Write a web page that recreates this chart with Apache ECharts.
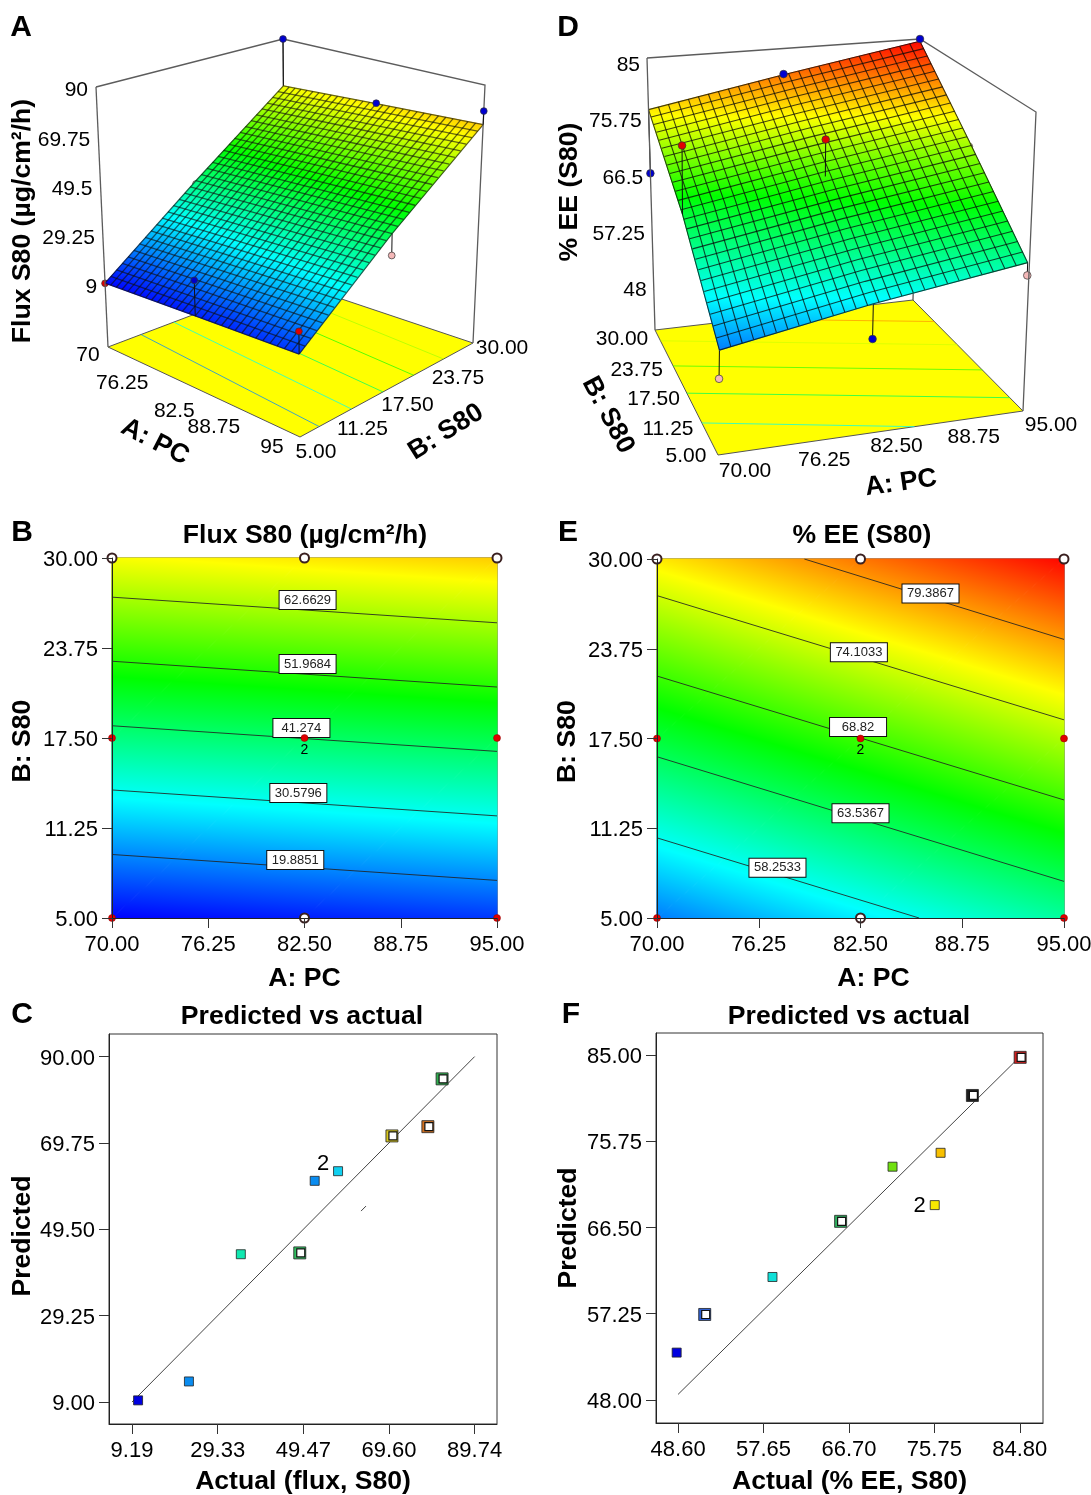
<!DOCTYPE html>
<html><head><meta charset="utf-8">
<style>html,body{margin:0;padding:0;background:#fff}#c{width:1091px;height:1495px}</style>
<script src="https://cdn.jsdelivr.net/npm/echarts@6/dist/echarts.min.js"></script>
</head><body><div id="c"></div>
<script>
// ---------- values ----------
const factorA=[70,82.5,95];
const factorB=[5,17.5,30];
const factorATicks=[70,76.25,82.5,88.75,95];
const factorBTicks=[5,11.25,17.5,23.75,30];
// response surface (rows: A, columns: B)
const fluxSurface=[[9.3,39.3,69.2],[11.5,41.4,71.4],[13.6,43.6,73.6]];
const eeSurface=[[53.0,64.7,76.5],[57.1,68.8,80.6],[61.1,72.9,84.6]];
const fluxLevels=[19.8851,30.5796,41.274,51.9684,62.6629];
const fluxContourStart=[[70,9.41],[70,13.89],[70,18.35],[70,22.83],[70,27.28]];
const fluxContourEnd=[[95,7.61],[95,12.09],[95,16.57],[95,21.04],[95,25.5]];
const fluxLabelAt=[[81.9,9.03],[82.1,13.68],[82.3,18.19],[82.7,22.64],[82.7,27.08]];
const eeLevels=[58.2533,63.5367,68.82,74.1033,79.3867];
const eeContourStart=[[70,10.58],[70,16.23],[70,21.85],[70,27.45],[79.05,30]];
const eeContourEnd=[[86.1,5],[95,7.55],[95,13.22],[95,18.8],[95,24.4]];
const eeLabelAt=[[77.4,8.5],[82.5,12.3],[82.35,18.3],[82.4,23.5],[86.8,27.6]];
// design points [A, B]
const designPoints=[[70,5],[82.5,5],[95,5],[70,17.5],[82.5,17.5],[95,17.5],[70,30],[82.5,30],[95,30]];
const designMark=['red','white','red','red','red','red','white','white','white'];
// actual responses at the design points, and their colours in the 3D plots
const fluxActual=[9.2,25.4,22,37.9,41,35,90,71.6,79.2];
const fluxDot=['#e00000','#0000c8','#e00000','#f4c0c0','#e00000','#f4b8b8','#0000d0','#0000d0','#0000d0'];
const eeActual=[49.5,52.5,59.3,74.5,74.3,72,66,80.7,85];
const eeDot=['#f4b8b8','#0000d0','#f4b8b8','#e00000','#e00000','#f4c0c0','#0000d0','#0000d0','#0000d0'];
// predicted vs actual
const fluxPvaX=[10.62,22.57,34.77,48.63,52.14,57.63,70.3,78.75,82.09];
const fluxPvaY=[9.39,13.83,43.66,43.97,60.87,63.13,71.4,73.57,84.78];
const fluxPvaColor=['#0000e0','#0a8cf0','#10e8b0','#30c060','#0a8cf0','#10d0f0','#d8c820','#d07020','#30b050'];
const fluxPvaHollow=[0,0,0,1,0,0,1,1,1];
const fluxPvaCount=['','','','','','2','','',''];
const eePvaX=[48.45,51.42,58.6,65.82,71.32,75.79,76.41,79.78,84.84];
const eePvaY=[53.08,57.17,61.19,67.16,73.02,68.9,74.51,80.66,84.75];
const eePvaColor=['#0000e0','#3060d0','#10e0d8','#30b060','#70e010','#f8e800','#f8c000','#202020','#d02020'];
const eePvaHollow=[0,1,0,1,0,0,0,1,1];
const eePvaCount=['','','','','','2','','',''];
const fluxActualTicks=[9.19,29.33,49.47,69.60,89.74];
const fluxPredTicks=[9,29.25,49.5,69.75,90];
const eeActualTicks=[48.60,57.65,66.70,75.75,84.80];
const eePredTicks=[48,57.25,66.5,75.75,85];
const fluxZTicks=[9,29.25,49.5,69.75,90];
const eeZTicks=[48,57.25,66.5,75.75,85];

// ---------- layout ----------
const FONT='"Liberation Sans",Arial,sans-serif';
const panelA={table:fluxSurface,levels:fluxLevels,cs:fluxContourStart,ce:fluxContourEnd,actual:fluxActual,dots:fluxDot,dom:[9.19,89.74],
  floor:[[108,347],[300,437],[473,343],[285,280]],top:[[96,87],[297,147],[485,85],[283,39]],zr:[-17,90],ku:.87,kv:1.07,
  wireBack:[[[283,39],[285,280]]],wireFront:[[[96,87],[283,39],[485,85],[473,343]],[[96,87],[108,347]]],
  nA:30,nB:32,meshColor:'rgba(15,15,15,.62)',meshW:1.3,dotR:3.4,
  zTicks:fluxZTicks,zCorner:[70,5],zOff:[-8,2],
  aLabels:['70','76.25','82.5','88.75','95'],aB:5,aOff:[[-20,7],[-29,14],[-23,21],[-33,14],[-28,9]],
  bLabels:['5.00','11.25','17.50','23.75','30.00'],bA:95,bOff:[[16,14],[17,15],[18,15],[26,11],[29,4]]};
const panelD={table:eeSurface,levels:eeLevels,cs:eeContourStart,ce:eeContourEnd,actual:eeActual,dots:eeDot,dom:[48.6,84.8],
  floor:[[718,455],[1023,411],[913,300],[655,330]],top:[[723,88],[1033,93],[920,39],[647,58]],zr:[40.2,85],ku:1,kv:1.2,
  wireBack:[[[920,39],[913,300]]],wireFront:[[[647,58],[920,39],[1036,112],[1023,411]],[[647,58],[655,330]]],
  nA:27,nB:25,meshColor:'rgba(10,10,10,.75)',meshW:1.1,dotR:3.8,
  zTicks:eeZTicks,zCorner:[70,30],zOff:[-7,6],
  aLabels:['70.00','76.25','82.50','88.75','95.00'],aB:5,aOff:[[27,15],[30,15],[26,12],[27,14],[28,13]],
  bLabels:['5.00','11.25','17.50','23.75','30.00'],bA:70,bOff:[[-32,0],[-32,8],[-30,11],[-32,12],[-33,8]]};

// ---------- helpers ----------
const RAMP=[[0,0,255],[0,255,255],[0,255,0],[255,255,0],[255,0,0]];
function ramp(dom,v){
  let t=(v-dom[0])/(dom[1]-dom[0])*4; t=Math.max(0,Math.min(3.9999,t));
  const i=Math.floor(t),f=t-i,a=RAMP[i],b=RAMP[i+1];
  return `rgb(${a.map((c,k)=>Math.round(c+(b[k]-c)*f)).join(',')})`;
}
const rampStops=RAMP.map((c,i)=>({offset:i/4,color:`rgb(${c.join(',')})`}));
// a triangle of the surface is filled by a gradient whose axis follows the slope of its three values
function triangle(p0,v0,p1,v1,p2,v2,dom){
  const ax=p1[0]-p0[0],ay=p1[1]-p0[1],bx=p2[0]-p0[0],by=p2[1]-p0[1];
  const d1=v1-v0,d2=v2-v0,det=ax*by-ay*bx;
  const gx=(d1*by-d2*ay)/det,gy=(ax*d2-bx*d1)/det,n=gx*gx+gy*gy;
  const s=(dom[0]-v0)/n,e=(dom[1]-v0)/n;
  const fill={type:'linear',global:true,x:p0[0]+gx*s,y:p0[1]+gy*s,x2:p0[0]+gx*e,y2:p0[1]+gy*e,colorStops:rampStops};
  return {type:'polygon',shape:{points:[p0,p1,p2]},style:{fill,stroke:fill,lineWidth:1}};
}
function surfaceTriangles(table,dom,pos){
  const out=[];
  for(let i=0;i<2;i++)for(let j=0;j<2;j++){
    const p00=pos(i,j),p10=pos(i+1,j),p11=pos(i+1,j+1),p01=pos(i,j+1);
    const v00=table[i][j],v10=table[i+1][j],v11=table[i+1][j+1],v01=table[i][j+1];
    out.push(triangle(p00,v00,p10,v10,p11,v11,dom),triangle(p00,v00,p11,v11,p01,v01,dom));
  }
  return out;
}
function tableAt(table,a,b){
  const u=Math.min(1.9999,(a-70)/12.5),v=Math.min(1.9999,(b-5)/12.5),i=Math.floor(u),j=Math.floor(v),f=u-i,g=v-j;
  return (table[i][j]*(1-f)+table[i+1][j]*f)*(1-g)+(table[i][j+1]*(1-f)+table[i+1][j+1]*f)*g;
}
function projector(c){
  const mix=(q,u,v)=>[0,1].map(k=>(q[0][k]*(1-u)+q[1][k]*u)*(1-v)+(q[3][k]*(1-u)+q[2][k]*u)*v);
  const warp=(x,k)=>x*k/(1+(k-1)*x);
  return (a,b,z)=>{
    const u=warp((a-70)/25,c.ku),v=warp((b-5)/25,c.kv),t=(z-c.zr[0])/(c.zr[1]-c.zr[0]);
    const f=mix(c.floor,u,v),h=mix(c.top,u,v);
    return [f[0]+(h[0]-f[0])*t,f[1]+(h[1]-f[1])*t];
  };
}
const layer=(z,render)=>({type:'custom',coordinateSystem:'none',data:[[0]],silent:true,z,renderItem:()=>({type:'group',children:render()})});
const text3d=(t,p,align)=>({type:'text',style:{text:t,x:p[0],y:p[1]+1.5,font:`21px ${FONT}`,fill:'#000',textAlign:align||'center',textVerticalAlign:'middle'}});

function panel3d(c){
  const P=projector(c),zf=c.zr[0],wire=s=>({type:'polyline',shape:{points:s},style:{stroke:'#5c5c5c',lineWidth:1.3,fill:null}});
  const dots=below=>{
    const out=[];
    designPoints.forEach((d,i)=>{
      const sv=tableAt(c.table,d[0],d[1]);
      if((c.actual[i]<sv)!==below)return;
      const p=P(d[0],d[1],c.actual[i]);
      out.push({type:'line',shape:{x1:p[0],y1:p[1],x2:P(d[0],d[1],sv)[0],y2:P(d[0],d[1],sv)[1]},style:{stroke:'#111',lineWidth:1}});
      out.push({type:'circle',shape:{cx:p[0],cy:p[1],r:c.dotR},style:{fill:c.dots[i],stroke:'#333',lineWidth:.7}});
    });
    return out;
  };
  return [
    layer(2,()=>{
      const out=c.wireBack.map(wire);
      out.push({type:'polygon',shape:{points:[P(70,5,zf),P(95,5,zf),P(95,30,zf),P(70,30,zf)]},style:{fill:'#ffff00',stroke:'#555',lineWidth:1}});
      c.levels.forEach((l,i)=>{
        const s=P(c.cs[i][0],c.cs[i][1],zf),e=P(c.ce[i][0],c.ce[i][1],zf);
        out.push({type:'line',shape:{x1:s[0],y1:s[1],x2:e[0],y2:e[1]},style:{stroke:ramp(c.dom,l),lineWidth:1,opacity:.75}});
      });
      return out.concat(dots(true));
    }),
    layer(3,()=>{
      const out=surfaceTriangles(c.table,c.dom,(i,j)=>P(factorA[i],factorB[j],c.table[i][j]));
      const style={stroke:c.meshColor,lineWidth:c.meshW,fill:null};
      for(let i=0;i<=c.nA;i++){const a=70+25*i/c.nA;
        out.push({type:'polyline',shape:{points:factorB.map(b=>P(a,b,tableAt(c.table,a,b)))},style});}
      for(let j=0;j<=c.nB;j++){const b=5+25*j/c.nB;
        out.push({type:'polyline',shape:{points:factorA.map(a=>P(a,b,tableAt(c.table,a,b)))},style});}
      return out;
    }),
    layer(4,()=>{
      const out=c.wireFront.map(wire).concat(dots(false));
      c.zTicks.forEach(z=>{const p=P(c.zCorner[0],c.zCorner[1],z);
        out.push(text3d(String(z),[p[0]+c.zOff[0],p[1]+c.zOff[1]],'right'));});
      factorATicks.forEach((a,i)=>{const p=P(a,c.aB,zf);
        out.push(text3d(c.aLabels[i],[p[0]+c.aOff[i][0],p[1]+c.aOff[i][1]]));});
      factorBTicks.forEach((b,i)=>{const p=P(c.bA,b,zf);
        out.push(text3d(c.bLabels[i],[p[0]+c.bOff[i][0],p[1]+c.bOff[i][1]]));});
      return out;
    })
  ];
}

function axis(ticks,min,max,idx,name,gap,vertical,namePad){
  return {type:'value',gridIndex:idx,min,max,name,nameLocation:'middle',nameGap:gap,
    nameTextStyle:{fontFamily:FONT,fontWeight:'bold',fontSize:26.6,color:'#000',padding:namePad||0},z:6,
    splitLine:{show:false},
    axisLine:{onZero:false,lineStyle:{color:'#222',width:1}},
    axisTick:{length:10,lineStyle:{color:'#333',width:1},customValues:ticks},
    axisLabel:{customValues:ticks,margin:vertical?14:16,fontFamily:FONT,fontSize:22,color:'#000',hideOverlap:false,showMinLabel:true,showMaxLabel:true,
      rich:{v:{fontFamily:FONT,fontSize:22,color:'#000',padding:[4,0,0,0]}},
      formatter:v=>vertical?`{v|${Number(v).toFixed(2)}}`:Number(v).toFixed(2)}};
}
function fieldSeries(idx,table,dom){
  return {type:'custom',coordinateSystem:'cartesian2d',xAxisIndex:idx,yAxisIndex:idx,data:[[70,5]],silent:true,z:1,clip:false,
    renderItem:(p,api)=>{
      const out=surfaceTriangles(table,dom,(i,j)=>api.coord([factorA[i],factorB[j]]));
      return {type:'group',children:out};
    }};
}
function contourSeries(idx,starts,ends,levels,labelAt){
  const lines=levels.map((l,i)=>({type:'line',xAxisIndex:idx,yAxisIndex:idx,data:[starts[i],ends[i]],symbol:'none',silent:true,z:2,
    lineStyle:{color:'#222',width:1,opacity:.85}}));
  lines.push({type:'scatter',xAxisIndex:idx,yAxisIndex:idx,symbolSize:0,z:4,silent:true,itemStyle:{opacity:1},
    data:labelAt.map((p,i)=>({value:p,name:String(levels[i])})),
    label:{show:true,opacity:1,position:'inside',formatter:o=>o.name,fontFamily:FONT,fontSize:13,color:'#222',backgroundColor:'#fff',
      borderColor:'#111',borderWidth:1,width:56,height:18,align:'center',verticalAlign:'middle',lineHeight:18}});
  return lines;
}
function designSeries(idx){
  const pick=k=>designPoints.filter((d,i)=>designMark[i]===k);
  return [
    {type:'scatter',xAxisIndex:idx,yAxisIndex:idx,clip:false,z:5,silent:true,symbolSize:7,data:pick('red'),
      itemStyle:{color:'#e00000',borderColor:'#800',borderWidth:.5,opacity:1},
      label:{show:true,opacity:1,position:'bottom',distance:1,fontFamily:FONT,fontSize:14,color:'#000',
        formatter:o=>(o.value[0]===82.5&&o.value[1]===17.5)?'2':''}},
    {type:'scatter',xAxisIndex:idx,yAxisIndex:idx,clip:false,z:5,silent:true,symbolSize:9,data:pick('white'),
      itemStyle:{color:'#fff',borderColor:'#3a2020',borderWidth:2,opacity:1}}
  ];
}
function pvaSeries(idx,xs,ys,cols,hollow,counts,lineEnds,labelOffset,extra){
  const pts=xs.map((x,i)=>({value:[x,ys[i]],name:counts[i],itemStyle:{color:cols[i]},symbolSize:hollow[i]?12:9}));
  const holes=xs.map((x,i)=>[x,ys[i]]).filter((p,i)=>hollow[i]);
  const out=[
    {type:'line',xAxisIndex:idx,yAxisIndex:idx,data:lineEnds,symbol:'none',silent:true,z:2,lineStyle:{color:'#444',width:1}},
    {type:'scatter',xAxisIndex:idx,yAxisIndex:idx,data:pts,silent:true,z:3,
      itemStyle:{borderColor:'#222',borderWidth:.8,opacity:1},symbol:'rect',
      label:{show:true,opacity:1,position:'left',distance:4,formatter:o=>o.name,fontFamily:FONT,fontSize:22,color:'#000',offset:labelOffset}},
    {type:'scatter',xAxisIndex:idx,yAxisIndex:idx,data:holes,silent:true,z:4,symbol:'rect',symbolSize:8,symbolOffset:[1,0],
      itemStyle:{color:'#fff',borderColor:'#111',borderWidth:1.2,opacity:1}}
  ];
  if(extra)out.push({type:'line',xAxisIndex:idx,yAxisIndex:idx,data:extra,symbol:'none',silent:true,z:2,lineStyle:{color:'#444',width:1}});
  return out;
}
const txt=(t,x,y,size,rot)=>({type:'text',x,y,rotation:rot||0,style:{text:t,font:`bold ${size}px ${FONT}`,fill:'#000',textAlign:'center',textVerticalAlign:'middle'}});
const rad=d=>d*Math.PI/180;
const gridCommon={show:true,outerBoundsMode:'none',borderWidth:1,backgroundColor:'transparent'};

const option={
  animation:false,backgroundColor:'#fff',
  grid:[
    {...gridCommon,left:112,top:558,width:385,height:360,borderColor:'#222'},
    {...gridCommon,left:657,top:559,width:407,height:359,borderColor:'#222'},
    {...gridCommon,left:109,top:1034,width:388,height:390,borderColor:'#333'},
    {...gridCommon,left:656,top:1033,width:387,height:390,borderColor:'#333'}
  ],
  xAxis:[
    axis(factorATicks,70,95,0,'A: PC',47),
    axis(factorATicks,70,95,1,'A: PC',47,false,[0,0,0,26]),
    axis(fluxActualTicks,3.78,95,2,'Actual (flux, S80)',44),
    axis(eeActualTicks,46.26,87.26,3,'Actual (% EE, S80)',45)
  ],
  yAxis:[
    axis(factorBTicks,5,30,0,'B: S80',76,true,[0,6,0,0]),
    axis(factorBTicks,5,30,1,'B: S80',76,true,[0,6,0,0]),
    axis(fluxPredTicks,3.85,95.3,2,'Predicted',73,true,[0,14,0,0]),
    axis(eePredTicks,45.53,87.36,3,'Predicted',74,true)
  ],
  graphic:{elements:[
    txt('A',21,28,30),txt('B',22,533,30),txt('C',22,1015,30),txt('D',568,28,30),txt('E',568,533,30),txt('F',571,1015,30),
    txt('Flux S80 (µg/cm²/h)',305,536,26.6),txt('% EE (S80)',862,536,26.6),
    txt('Predicted vs actual',302,1017,26.6),txt('Predicted vs actual',849,1017,26.6),
    txt('Flux S80 (µg/cm²/h)',23,221,26.6,rad(90)),txt('A: PC',155,442,26.6,rad(-27)),txt('B: S80',446,432,26.6,rad(32)),
    txt('% EE (S80)',570,192,26.6,rad(90)),txt('B: S80',608,415,26.6,rad(-62)),txt('A: PC',901,483,26.6,rad(8))
  ]},
  series:[
    ...panel3d(panelA),...panel3d(panelD),
    fieldSeries(0,fluxSurface,panelA.dom),...contourSeries(0,fluxContourStart,fluxContourEnd,fluxLevels,fluxLabelAt),...designSeries(0),
    fieldSeries(1,eeSurface,panelD.dom),...contourSeries(1,eeContourStart,eeContourEnd,eeLevels,eeLabelAt),...designSeries(1),
    ...pvaSeries(2,fluxPvaX,fluxPvaY,fluxPvaColor,fluxPvaHollow,fluxPvaCount,[[9.19,9],[89.74,90]],[0,-7],[[63.04,53.78],[64.2,54.95]]),
    ...pvaSeries(3,eePvaX,eePvaY,eePvaColor,eePvaHollow,eePvaCount,[[48.6,48.6],[84.8,84.8]],[0,1])
  ]
};
echarts.init(document.getElementById('c'),null,{renderer:'canvas'}).setOption(option);
</script></body></html>
